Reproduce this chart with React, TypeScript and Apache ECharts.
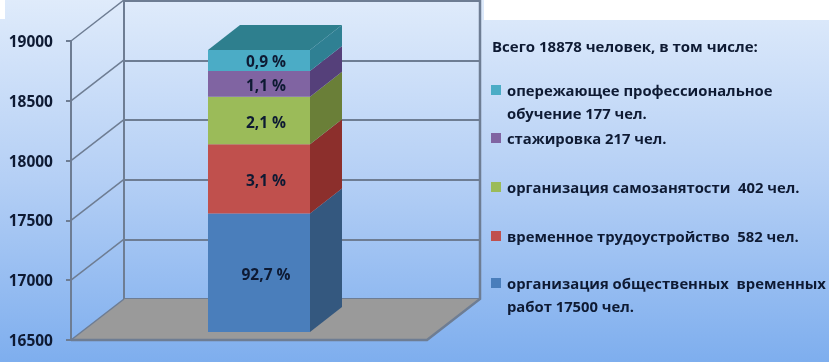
import React, { useEffect, useRef } from "react";
import * as echarts from "echarts";

const categories = ["Всего"];
const segmentNames = [
  "организация общественных временных работ",
  "временное трудоустройство",
  "организация самозанятости",
  "стажировка",
  "опережающее профессиональное обучение",
];
const segmentValues = [17500, 582, 402, 217, 177];
const segmentLabels = ["92,7 %", "3,1 %", "2,1 %", "1,1 %", "0,9 %"];
const frontColors = ["#4A7EBB", "#C0504D", "#9BBB59", "#8064A2", "#4BACC6"];
const sideColors = ["#34587F", "#8C2F2C", "#6A7F38", "#55407A", "#2F8093"];
const topColor = "#2E7F8E";
const axisTicks = [16500, 17000, 17500, 18000, 18500, 19000];
const legendTitle = "Всего 18878 человек, в том числе:";
const legendLines = [
  { color: "#4BACC6", lines: ["опережающее профессиональное", "обучение 177 чел."], y: 90 },
  { color: "#8064A2", lines: ["стажировка 217 чел."], y: 138 },
  { color: "#9BBB59", lines: ["организация самозанятости  402 чел."], y: 187 },
  { color: "#C0504D", lines: ["временное трудоустройство  582 чел."], y: 236 },
  { color: "#4A7EBB", lines: ["организация общественных  временных", "работ 17500 чел."], y: 283 },
];

const FONT = "'Open Sans', sans-serif";
const INK = "#0E1A33";
const LINE = "#6E7D93";
const DX = 53;
const DY = -41;
const BAR_DX = 32;
const BAR_DY = -25;

export default function App() {
  const ref = useRef<HTMLDivElement>(null);
  useEffect(() => {
    document.body.style.margin = "0";
    const chart = echarts.init(ref.current!, undefined, { renderer: "svg" });

    const valueAxis = (gridIndex: number, extra: any) => ({
      type: "value",
      gridIndex,
      min: 16500,
      max: 19000,
      interval: 500,
      axisLine: { show: false },
      axisTick: { show: false },
      axisLabel: { show: false },
      splitLine: { show: false },
      ...extra,
    });
    const catAxis = (gridIndex: number) => ({
      type: "category",
      gridIndex,
      data: categories,
      axisLine: { show: false },
      axisTick: { show: false },
      axisLabel: { show: false },
    });

    let cumulative = 16500;
    const ranges = segmentValues.map((v, i) => {
      const from = i === 0 ? 16500 : cumulative;
      const to = (i === 0 ? 0 : cumulative) + v;
      cumulative = to;
      return [0, from, to, i];
    });

    const option: any = {
      animation: false,
      backgroundColor: {
        type: "linear",
        x: 0,
        y: 0,
        x2: 0,
        y2: 1,
        colorStops: [
          { offset: 0, color: "#DFEBFB" },
          { offset: 0.5, color: "#B4CFF5" },
          { offset: 1, color: "#7EAEEE" },
        ],
      },
      title: {
        text: legendTitle,
        left: 487,
        top: 33,
        textStyle: { fontFamily: FONT, fontSize: 15, fontWeight: 700, color: INK },
      },
      grid: [
        { left: 71, top: 41, width: 356, height: 299 },
        { left: 124, top: 1, width: 355, height: 298 },
        { left: 208, top: 35.5, width: 102, height: 296.5 },
      ],
      xAxis: [catAxis(0), catAxis(1), catAxis(2)],
      yAxis: [
        valueAxis(0, {
          axisLine: { show: true, lineStyle: { color: LINE, width: 2 } },
          axisTick: { show: true, length: 5, lineStyle: { color: LINE, width: 2 } },
          axisLabel: {
            show: true,
            margin: 18,
            fontFamily: FONT,
            fontSize: 15.5,
            fontWeight: 700,
            color: INK,
            formatter: (v: number) => String(v),
          },
        }),
        valueAxis(1, {
          splitLine: { show: true, lineStyle: { color: LINE, width: 2 } },
        }),
        valueAxis(2, {}),
      ],
      series: [
        {
          type: "custom",
          name: "стены",
          xAxisIndex: 0,
          yAxisIndex: 0,
          z: 1,
          silent: true,
          clip: false,
          data: axisTicks.map((t) => [0, t]),
          renderItem: (params: any, api: any) => {
            const p = api.coord([0, api.value(1)]);
            const left = 71;
            const size = api.size([1, 0]);
            const right = left + size[0];
            const children: any[] = [
              {
                type: "line",
                shape: { x1: left, y1: p[1], x2: left + DX, y2: p[1] + DY },
                style: { stroke: LINE, lineWidth: 1.5 },
              },
            ];
            if (params.dataIndex === 0) {
              children.unshift(
                {
                  type: "polygon",
                  shape: {
                    points: [
                      [left, p[1]],
                      [left + DX, p[1] + DY],
                      [right + DX, p[1] + DY],
                      [right, p[1]],
                    ],
                  },
                  style: { fill: "#9A9A9A" },
                },
                {
                  type: "polyline",
                  shape: {
                    points: [
                      [left, p[1]],
                      [right, p[1]],
                      [right + DX, p[1] + DY],
                      [right + DX, p[1] + DY - 299],
                    ],
                  },
                  style: { stroke: LINE, lineWidth: 2.5, fill: "none" },
                },
                {
                  type: "line",
                  shape: { x1: left + DX, y1: p[1] + DY, x2: left + DX, y2: p[1] + DY - 299 },
                  style: { stroke: LINE, lineWidth: 2 },
                }
              );
            }
            return { type: "group", children };
          },
        },
        ...ranges.map((r, i) => ({
          type: "custom",
          name: segmentNames[i] + " (бок)",
          xAxisIndex: 2,
          yAxisIndex: 2,
          z: 3,
          silent: true,
          data: [r],
          renderItem: (_p: any, api: any) => {
            const a = api.coord([0, api.value(1)]);
            const b = api.coord([0, api.value(2)]);
            const half = api.size([1, 0])[0] / 2;
            const x = a[0] + half;
            const shape = {
              points: [
                [x, a[1]],
                [x + BAR_DX, a[1] + BAR_DY],
                [x + BAR_DX, b[1] + BAR_DY],
                [x, b[1]],
              ],
            };
            const children: any[] = [
              { type: "polygon", shape, style: { fill: sideColors[i] } },
            ];
            if (i === segmentValues.length - 1) {
              children.push({
                type: "polygon",
                shape: {
                  points: [
                    [x - 2 * half, b[1]],
                    [x - 2 * half + BAR_DX, b[1] + BAR_DY],
                    [x + BAR_DX, b[1] + BAR_DY],
                    [x, b[1]],
                  ],
                },
                style: { fill: topColor },
              });
            }
            return { type: "group", children };
          },
        })),
        ...segmentValues.map((v, i) => ({
          type: "bar",
          name: segmentNames[i],
          xAxisIndex: 2,
          yAxisIndex: 2,
          stack: "total",
          barWidth: "100%",
          z: 4,
          data: [v],
          itemStyle: { color: frontColors[i] },
          label: {
            show: true,
            position: "inside",
            offset: [7, 1],
            formatter: () => segmentLabels[i],
            fontFamily: FONT,
            fontSize: 15.5,
            fontWeight: 700,
            color: INK,
          },
        })),
      ],
      graphic: [
        { type: "rect", shape: { x: 0, y: 0, width: 5, height: 19 }, style: { fill: "#FFFFFF" } },
        { type: "rect", shape: { x: 484, y: 0, width: 345, height: 20 }, style: { fill: "#FFFFFF" } },
        ...legendLines.flatMap((e) => [
          {
            type: "rect",
            shape: { x: 491, y: e.y - 5, width: 10, height: 10 },
            style: { fill: e.color },
          },
          ...e.lines.map((t, j) => ({
            type: "text",
            x: 507,
            y: e.y + j * 23,
            style: {
              text: t,
              fill: INK,
              font: `700 14.8px ${FONT}`,
              verticalAlign: "middle",
            },
          })),
        ]),
      ],
    };

    chart.setOption(option);
    return () => chart.dispose();
  }, []);
  return <div ref={ref} style={{ width: 829, height: 362, filter: "blur(0.4px)" }} />;
}
